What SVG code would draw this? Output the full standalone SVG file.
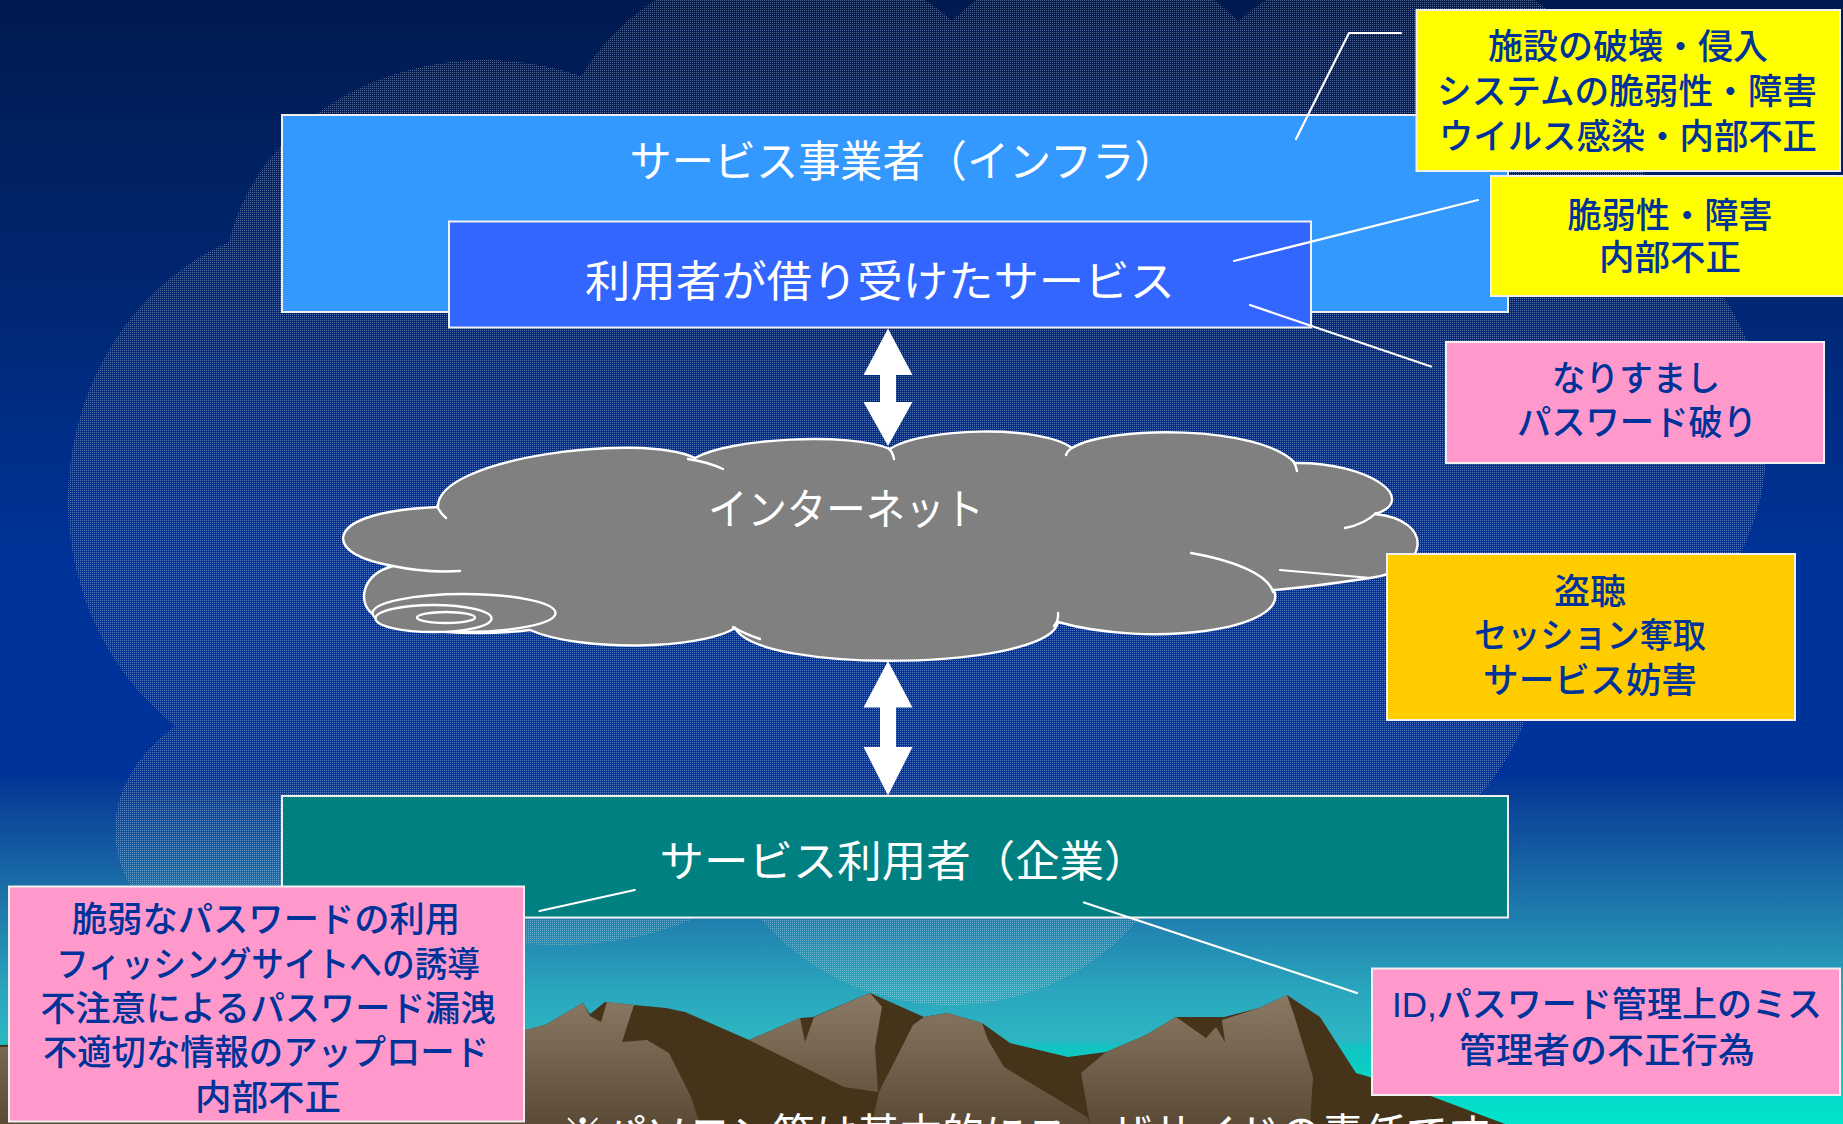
<svg xmlns="http://www.w3.org/2000/svg" width="1843" height="1124" viewBox="0 0 1843 1124">
  <defs>
    <style>
      .title { font-family: "Liberation Sans", "Noto Sans CJK JP", "Noto Sans CJK SC", sans-serif; font-size: 43px; fill: #ffffff; text-anchor: middle; }
      .note { font-family: "Liberation Sans", "Noto Sans CJK JP", "Noto Sans CJK SC", sans-serif; font-size: 35px; fill: #003399; text-anchor: middle; font-weight: 500; }
      .box { stroke: #f0f0f0; stroke-width: 2; }
      .link { stroke: #ffffff; stroke-width: 2.2; fill: none; stroke-linecap: round; }
      .arrow { fill: #ffffff; }
      .net { fill: #808080; stroke: #ffffff; stroke-width: 2.4; }
      .curl { fill: none; stroke: #ffffff; stroke-width: 2.4; stroke-linecap: round; }
      .rock { fill: url(#rockFace); }
    </style>
    <linearGradient id="sky" x1="0" y1="0" x2="0" y2="1124" gradientUnits="userSpaceOnUse">
      <stop offset="0" stop-color="#001a4f"/>
      <stop offset="0.25" stop-color="#002670"/>
      <stop offset="0.5" stop-color="#003399"/>
      <stop offset="0.69" stop-color="#003399"/>
      <stop offset="0.70" stop-color="#073a96"/>
      <stop offset="0.80" stop-color="#1d74aa"/>
      <stop offset="0.88" stop-color="#2aa5bd"/>
      <stop offset="0.925" stop-color="#2db6c2"/>
      <stop offset="0.932" stop-color="#10c4c2"/>
      <stop offset="1" stop-color="#00e6cc"/>
    </linearGradient>
    <linearGradient id="rockFace" x1="0" y1="993" x2="0" y2="1124" gradientUnits="userSpaceOnUse">
      <stop offset="0" stop-color="#8a7a66"/>
      <stop offset="1" stop-color="#5a4a36"/>
    </linearGradient>
    <pattern id="dots" width="2" height="2" patternUnits="userSpaceOnUse">
      <rect width="1" height="1" fill="#ffffff" fill-opacity="0.35"/>
    </pattern>
    <mask id="skyCloud" maskUnits="userSpaceOnUse" x="0" y="0" width="1843" height="1124">
      <rect width="1843" height="1124" fill="#000"/>
      <g fill="#fff">
        <ellipse cx="485" cy="290" rx="262" ry="230"/>
        <ellipse cx="790" cy="200" rx="244" ry="240"/>
        <ellipse cx="1095" cy="200" rx="215" ry="240"/>
        <ellipse cx="1400" cy="210" rx="247" ry="250"/>
        <ellipse cx="1480" cy="440" rx="287" ry="270"/>
        <ellipse cx="1260" cy="640" rx="280" ry="250"/>
        <ellipse cx="950" cy="780" rx="240" ry="225"/>
        <ellipse cx="560" cy="760" rx="260" ry="185"/>
        <ellipse cx="330" cy="830" rx="215" ry="150"/>
        <ellipse cx="330" cy="500" rx="262" ry="280"/>
        <ellipse cx="900" cy="480" rx="600" ry="400"/>
      </g>
    </mask>
  </defs>

  <!-- sky -->
  <rect width="1843" height="1124" fill="url(#sky)"/>

  <!-- mountains -->
  <g id="mountains">
    <path fill="#46341a" d="M0,1045 L525,1030 L545,1025 L583,1003 L590,1014 L605,1002 L634,1005 L666,1008 L685,1012 L749,1040 L800,1018 L813,1017 L870,993 L924,1017 L947,1013 L982,1023 L1010,1043 L1068,1057 L1106,1052 L1146,1035 L1176,1017 L1224,1017 L1259,1008 L1287,995 L1320,1017 L1356,1073 L1420,1092 L1505,1124 L0,1124 Z"/>
    <path class="rock" d="M0,1047 L525,1031 L525,1124 L0,1124 Z"/>
    <path class="rock" d="M525,1030 L545,1025 L583,1003 L590,1016 L601,1022 L607,1002 L634,1005 L622,1042 L647,1040 L669,1053 L691,1097 L700,1124 L525,1124 Z"/>
    <path class="rock" d="M749,1040 L800,1018 L805,1042 L814,1017 L870,993 L882,1007 L875,1047 L878,1092 L844,1087 Z"/>
    <path class="rock" d="M879,1092 L913,1025 L924,1017 L947,1013 L982,1023 L988,1040 L1004,1067 L1087,1117 L1090,1124 L872,1124 Z"/>
    <path class="rock" d="M1081,1073 L1106,1052 L1146,1035 L1176,1017 L1206,1038 L1216,1027 L1225,1042 L1222,1020 L1259,1008 L1287,995 L1294,1015 L1313,1077 L1310,1124 L1090,1124 Z"/>
  </g>

  <!-- dotted sky cloud -->
  <rect id="sky-cloud" width="1843" height="1124" fill="url(#dots)" mask="url(#skyCloud)"/>

  <!-- provider (infrastructure) -->
  <g id="provider">
    <rect class="box" x="282" y="115" width="1226" height="197" fill="#3399ff"/>
    <text class="title" x="903" y="177" textLength="547" lengthAdjust="spacingAndGlyphs">サービス事業者（インフラ）</text>
  </g>

  <!-- leased service -->
  <g id="leased-service">
    <rect class="box" x="449" y="221.5" width="862" height="106" fill="#3366ff"/>
    <text class="title" x="880" y="297" textLength="590" lengthAdjust="spacingAndGlyphs">利用者が借り受けたサービス</text>
  </g>

  <!-- internet -->
  <g id="internet">
    <path class="net" d="M343,538 C345,518 390,509 438,507 C436,458 640,432 695,458 C730,438 850,432 890,449 C920,428 1040,424 1072,448 C1110,425 1260,425 1295,463 C1370,462 1420,500 1375,514 C1435,520 1430,570 1370,578 C1330,584 1300,588 1274,590 C1290,630 1150,648 1058,622 C1050,670 760,675 735,628 C700,650 580,652 530,630 C480,636 400,634 373,614 C358,604 360,575 393,566 C360,560 343,550 343,538 Z"/>
    <ellipse class="net" cx="464" cy="613" rx="91.5" ry="19"/>
    <ellipse class="net" cx="433.5" cy="618.5" rx="58" ry="13.5"/>
    <ellipse class="net" cx="446" cy="617.5" rx="29" ry="5.5"/>
    <path class="curl" d="M393,566 Q425,573 460,571"/>
    <path class="curl" d="M688,459 Q708,462 723,469"/>
    <path class="curl" d="M888,448 Q893,452 894,459"/>
    <path class="curl" d="M1066,455 Q1068,449 1076,446"/>
    <path class="curl" d="M1293,461 Q1296,465 1297,471"/>
    <path class="curl" d="M1376,513 Q1365,524 1345,528"/>
    <path class="curl" d="M1191,553 C1232,560 1268,574 1273,592"/>
    <path class="curl" d="M1058,613 Q1059,620 1054,626"/>
    <path class="curl" d="M733,627 Q745,634 760,639"/>
    <path class="curl" d="M437,506 Q440,513 446,518"/>
    <text class="title" x="846" y="525" textLength="276" lengthAdjust="spacingAndGlyphs">インターネット</text>
  </g>

  <!-- service user (company) -->
  <g id="user">
    <rect class="box" x="282" y="796" width="1226" height="121.5" fill="#008080"/>
    <text class="title" x="904" y="877" textLength="489" lengthAdjust="spacingAndGlyphs">サービス利用者（企業）</text>
  </g>

  <!-- connectors -->
  <g id="connectors">
    <path class="arrow" d="M888,328.5 L912.5,375 L896,375 L896,402 L912.5,402 L888,446 L863.5,402 L880,402 L880,375 L863.5,375 Z"/>
    <path class="arrow" d="M888,661 L912.5,707.5 L896,707.5 L896,747 L912.5,747 L888,795.5 L863.5,747 L880,747 L880,707.5 L863.5,707.5 Z"/>
    <polyline class="link" points="1296,139 1349,33 1401,33"/>
    <line class="link" x1="1234" y1="261" x2="1478" y2="200"/>
    <line class="link" x1="1250" y1="305" x2="1431" y2="366.5"/>
    <line class="link" x1="1280" y1="570" x2="1371" y2="578"/>
    <line class="link" x1="539.5" y1="911" x2="634.8" y2="890"/>
    <line class="link" x1="1084" y1="902.5" x2="1357" y2="993"/>
  </g>

  <!-- threats: facility -->
  <g id="threat-facility">
    <rect class="box" x="1416.5" y="10" width="423.5" height="161" fill="#ffff00"/>
    <text class="note" x="1628" y="59" textLength="280" lengthAdjust="spacingAndGlyphs">施設の破壊・侵入</text>
    <text class="note" x="1627" y="104" textLength="380" lengthAdjust="spacingAndGlyphs">システムの脆弱性・障害</text>
    <text class="note" x="1628" y="149" textLength="378" lengthAdjust="spacingAndGlyphs">ウイルス感染・内部不正</text>
  </g>

  <!-- threats: leased service -->
  <g id="threat-service">
    <rect class="box" x="1491" y="176" width="360" height="120" fill="#ffff00"/>
    <text class="note" x="1670" y="228" textLength="205" lengthAdjust="spacingAndGlyphs">脆弱性・障害</text>
    <text class="note" x="1670" y="270" textLength="142" lengthAdjust="spacingAndGlyphs">内部不正</text>
  </g>

  <!-- threats: access -->
  <g id="threat-access">
    <rect class="box" x="1446" y="342" width="378" height="121" fill="#ff99cc"/>
    <text class="note" x="1636" y="391" textLength="168" lengthAdjust="spacingAndGlyphs">なりすまし</text>
    <text class="note" x="1637" y="435" textLength="240" lengthAdjust="spacingAndGlyphs">パスワード破り</text>
  </g>

  <!-- threats: network -->
  <g id="threat-network">
    <rect class="box" x="1387" y="554" width="408" height="166" fill="#ffcc00"/>
    <text class="note" x="1590" y="604" textLength="72" lengthAdjust="spacingAndGlyphs">盗聴</text>
    <text class="note" x="1590" y="648" textLength="232" lengthAdjust="spacingAndGlyphs">セッション奪取</text>
    <text class="note" x="1590" y="693" textLength="214" lengthAdjust="spacingAndGlyphs">サービス妨害</text>
  </g>

  <!-- threats: administration -->
  <g id="threat-admin">
    <rect class="box" x="1372" y="968.5" width="468" height="126.5" fill="#ff99cc"/>
    <text class="note" x="1607" y="1017" textLength="430" lengthAdjust="spacingAndGlyphs">ID,パスワード管理上のミス</text>
    <text class="note" x="1607" y="1063" textLength="296" lengthAdjust="spacingAndGlyphs">管理者の不正行為</text>
  </g>

  <!-- threats: end users -->
  <g id="threat-users">
    <rect class="box" x="9" y="886.5" width="515" height="235" fill="#ff99cc"/>
    <text class="note" x="266" y="932" textLength="388" lengthAdjust="spacingAndGlyphs">脆弱なパスワードの利用</text>
    <text class="note" x="268" y="977" textLength="424" lengthAdjust="spacingAndGlyphs">フィッシングサイトへの誘導</text>
    <text class="note" x="268" y="1021" textLength="455" lengthAdjust="spacingAndGlyphs">不注意によるパスワード漏洩</text>
    <text class="note" x="266" y="1065" textLength="446" lengthAdjust="spacingAndGlyphs">不適切な情報のアップロード</text>
    <text class="note" x="268" y="1110" textLength="146" lengthAdjust="spacingAndGlyphs">内部不正</text>
  </g>

  <!-- footnote, running off the bottom edge -->
  <text class="title" x="1026" y="1150" font-size="44" textLength="929" lengthAdjust="spacingAndGlyphs">※パソコン等は基本的にユーザサイドの責任です</text>
</svg>
